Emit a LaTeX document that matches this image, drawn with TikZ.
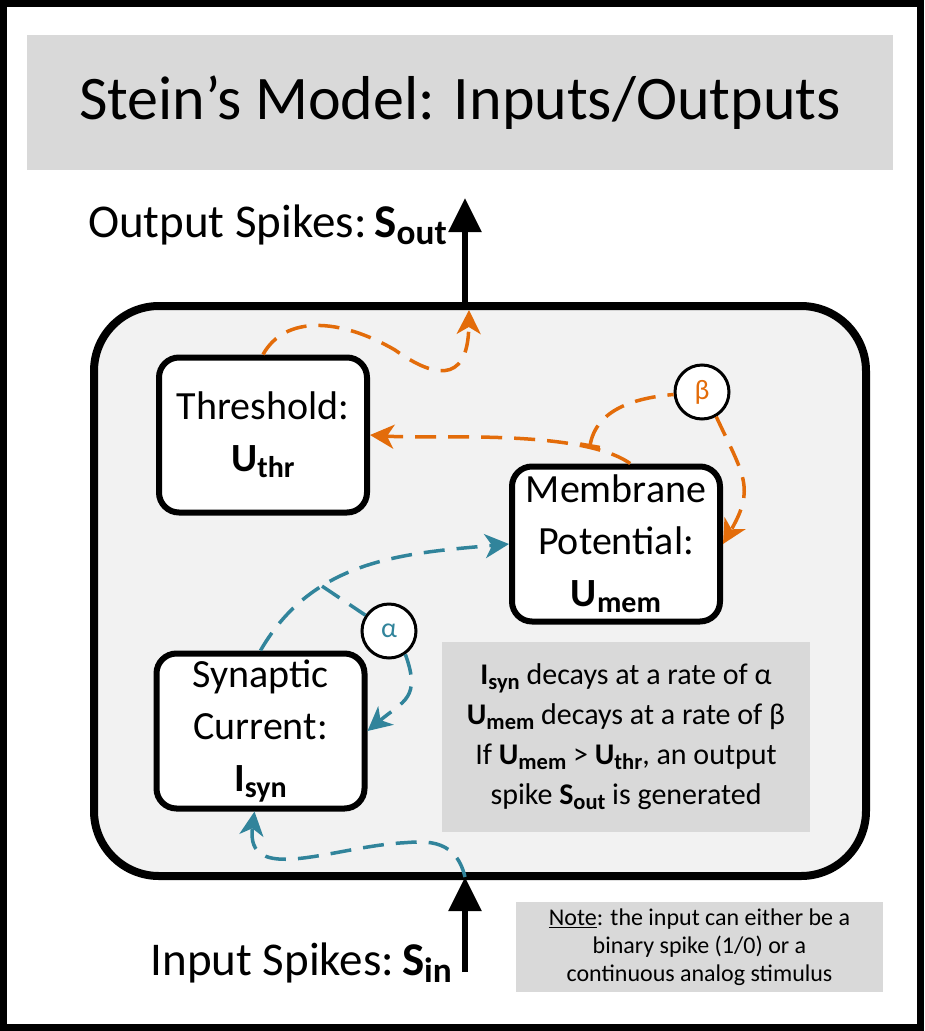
\documentclass[tikz,border=0pt]{standalone}
\usepackage{fontspec}
\setmainfont{Carlito}
\usetikzlibrary{arrows.meta,positioning,calc}
\definecolor{cORG}{HTML}{E36C0A}
\definecolor{cTEAL}{HTML}{31849B}
\definecolor{cPANEL}{HTML}{F2F2F2}
\definecolor{cBAR}{HTML}{D9D9D9}
\newcommand{\vsub}[2]{\textbf{#1\raisebox{-0.15em}{\scalebox{0.75}{#2}}}}
\newcommand{\fs}[2]{\fontsize{#1}{#2}\selectfont}

\begin{document}
\begin{tikzpicture}[x=1pt, y=1pt, >=Stealth,
  box/.style={draw, line width=6pt, rounded corners=20pt, fill=white, minimum width=208pt, minimum height=155pt, inner sep=0pt, align=center, font=\fs{40}{52}},
  rate/.style={draw, circle, line width=3pt, fill=white, minimum size=54pt, inner sep=0pt, font=\fs{28}{30}},
  gbox/.style={fill=cBAR, inner sep=0pt, align=center},
  lbl/.style={anchor=base east, inner sep=0pt, font=\fs{47}{50}},
  dsh/.style={line width=3.5pt, dash pattern=on 21pt off 12pt, -{Stealth[length=24pt,width=24pt,inset=7pt]}},
  spike/.style={line width=6pt, -{Triangle[width=32pt,length=34pt]}}]
\fill[white] (0,0) rectangle (924,-1031);
\useasboundingbox (0,0) rectangle (924,-1031);

\node[gbox, minimum width=866pt, minimum height=135pt, font=\fs{62}{70}] (title) at (460,-102.5) {Stein’s Model: Inputs/Outputs};
\draw[line width=8pt, rounded corners=65pt, fill=cPANEL] (94,-306) rectangle (866,-876);

\coordinate (otop) at (465,-306);
\coordinate (otip) at (465,-198);
\coordinate (oend) at (469,-310);
\coordinate (inb) at (465,-877);
\coordinate (intail) at (465,-972);
\node[lbl] (outlbl) at (447,-237) {Output Spikes:\,\vsub{S}{out}};
\node[lbl] (inlbl) at (452,-975) {Input Spikes:\,\vsub{S}{in}};
\draw[spike] (otop) -- (otip);
\draw[spike] (intail) -- (inb);

\node[box] (thr) at (263,-435) {Threshold:\\\vsub{U}{thr}};
\node[box] (mem) at (616,-544) {Membrane\\Potential:\\\vsub{U}{mem}};
\node[box] (syn) at (260.5,-731) {Synaptic\\Current:\\\vsub{I}{syn}};
\node[rate, text=cTEAL] (al) at (389,-631) {α};
\node[rate, text=cORG] (be) at (702,-392) {β};

\node[gbox, minimum width=368pt, minimum height=190pt, font=\fs{30}{40}] (info) at (626,-737) {\vsub{I}{syn} decays at a rate of α\\\vsub{U}{mem} decays at a rate of β\\If \vsub{U}{mem} > \vsub{U}{thr}, an output\\spike \vsub{S}{out} is generated};
\node[gbox, minimum width=367pt, minimum height=90pt, font=\fs{24}{28}] (note) at (699.5,-947) {\underline{Note}: the input can either be a\\binary spike (1/0) or a\\continuous analog stimulus};

\draw[dsh, cORG] (thr.north) .. controls (285,-315) and (340,-318) .. (395,-350) .. controls (430,-375) and (468,-388) .. (oend);
\draw[dsh, cORG] (mem.80) to[out=145, in=-4, looseness=0.6] coordinate[pos=0.2] (bj) (thr.east);
\draw[dsh, cORG, {Bar[width=20pt,line width=3.5pt]}-] (bj) to[out=80, in=185] (be);
\draw[dsh, cORG] (be.-60) to[out=-65, in=60, looseness=1.3] (mem.east);

\draw[dsh, cTEAL] (syn.north) to[out=60, in=185] coordinate[pos=0.32] (tb) (mem.west);
\draw[dsh, cTEAL, -] (tb) -- (al);
\draw[dsh, cTEAL] (al.-55) to[out=-70, in=40, looseness=1.4] (syn.east);
\draw[dsh, cTEAL] (inb) .. controls (455,-835) and (420,-842) .. (400,-843) .. controls (330,-848) and (245,-885) .. ([xshift=-6pt]syn.south);

\draw[line width=7pt] (3.5,-3.5) rectangle (920.5,-1027.5);
\end{tikzpicture}
\end{document}
